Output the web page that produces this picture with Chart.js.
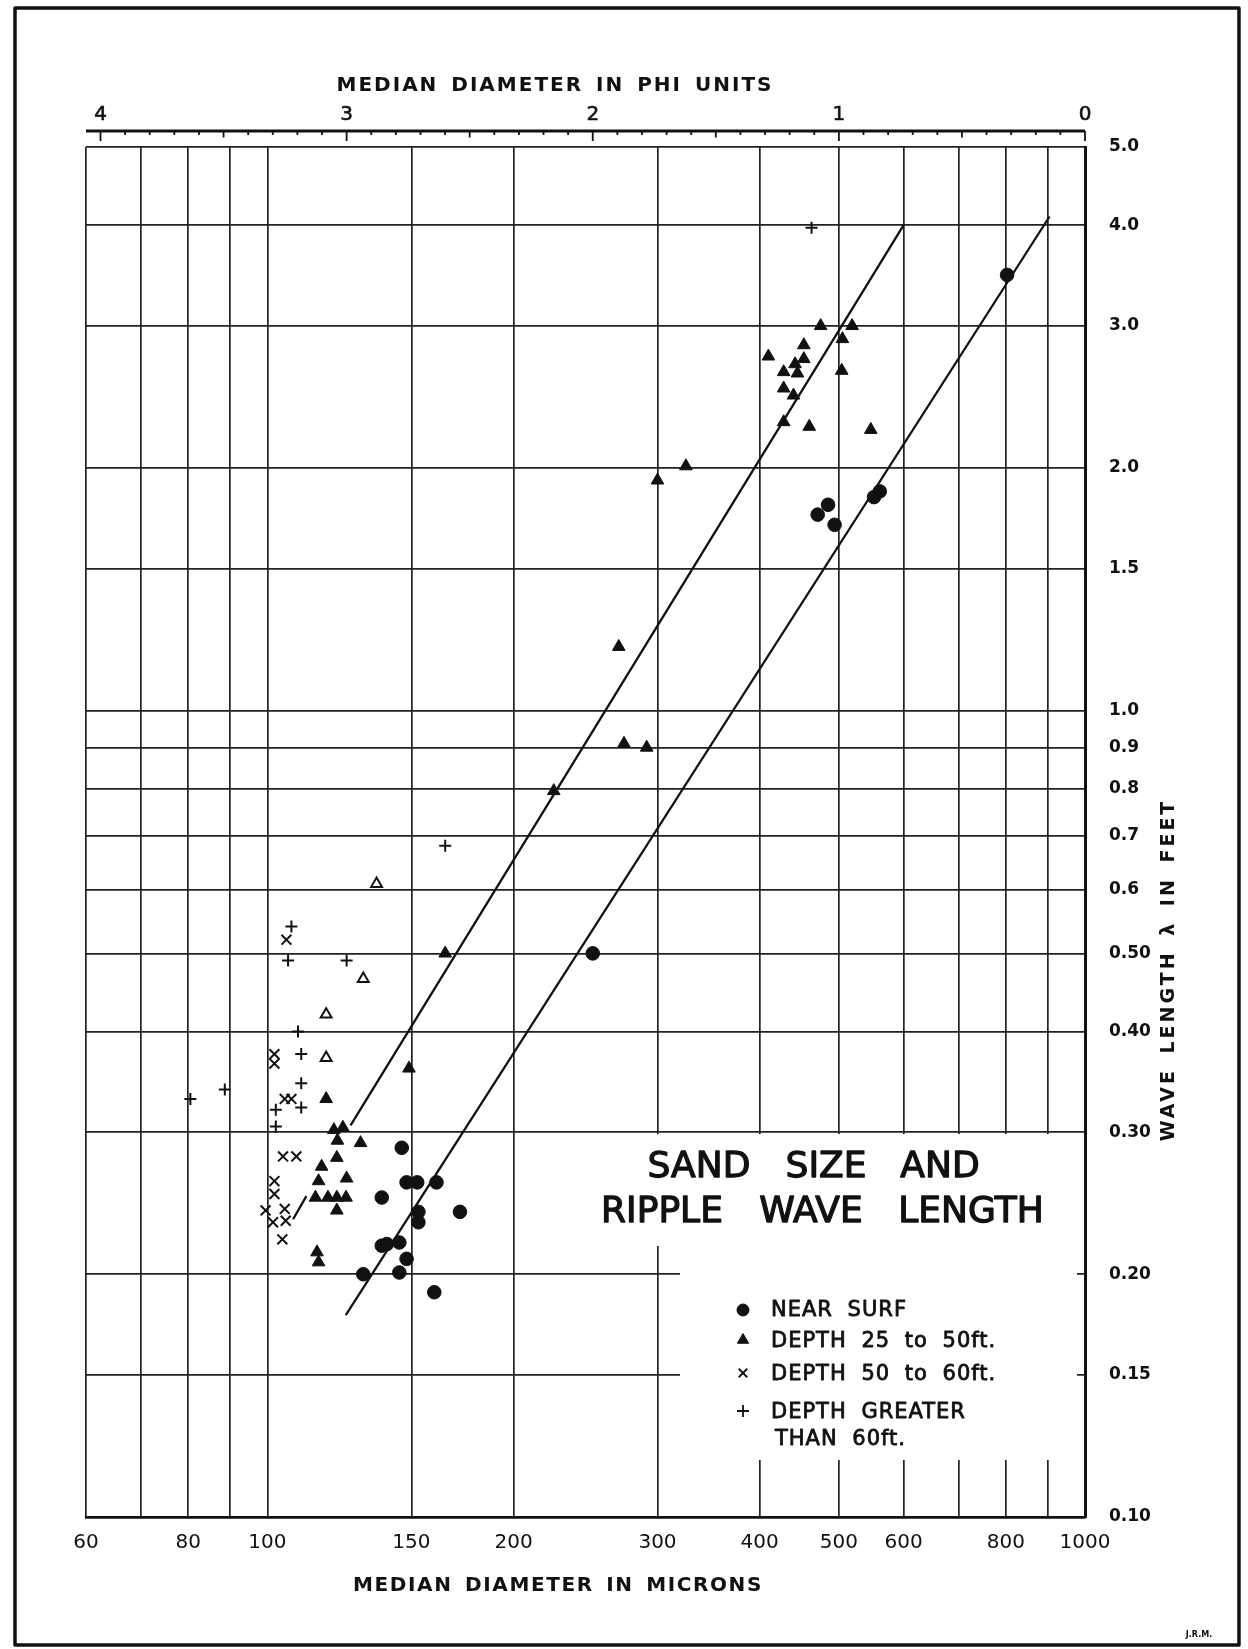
<!DOCTYPE html>
<html>
<head>
<meta charset="utf-8">
<title>Sand size and ripple wave length</title>
<script src="https://cdn.jsdelivr.net/npm/chart.js@4.4.1/dist/chart.umd.min.js"></script>
<style>
  html, body { margin: 0; padding: 0; background: #fff; }
  canvas { display: block; }
</style>
</head>
<body>
<canvas id="ripples" width="1248" height="1649"></canvas>
<script>
// axis ticks
const xTickValues = [60, 70, 80, 90, 100, 150, 200, 300, 400, 500, 600, 700, 800, 900, 1000];
const xTickLabels = ['60', '', '80', '', '100', '150', '200', '300', '400', '500', '600', '', '800', '', '1000'];
const yTickValues = [0.1, 0.15, 0.2, 0.3, 0.4, 0.5, 0.6, 0.7, 0.8, 0.9, 1, 1.5, 2, 3, 4, 5];
const yTickLabels = ['0.10', '0.15', '0.20', '0.30', '0.40', '0.50', '0.6', '0.7', '0.8', '0.9', '1.0', '1.5', '2.0', '3.0', '4.0', '5.0'];
const phiTicks = [4, 3, 2, 1, 0];
const phiLabels = ['4', '3', '2', '1', '0'];

// near surf (dots)
const nearSurfMicrons = [803, 552, 561, 471, 485, 494, 250, 146, 138, 148, 152.5, 161, 153, 153, 172, 138, 140, 145, 148, 145, 131, 160];
const nearSurfFeet = [3.47, 1.84, 1.87, 1.75, 1.80, 1.70, 0.50, 0.287, 0.249, 0.26, 0.26, 0.26, 0.239, 0.232, 0.239, 0.217, 0.218, 0.219, 0.209, 0.201, 0.20, 0.19];

// depth 25 to 50 ft (solid triangles)
const depth25Microns = [475, 519, 505, 410, 453, 453, 442, 428, 445, 428, 440, 504, 428, 460, 547,
  325, 300, 269, 273, 291, 224, 165, 149,
  118, 120.6, 123.7, 121.8, 130, 116.5, 121.6, 115.5, 125, 114.5, 118.6, 121.6, 124.8, 121.6, 115, 115.5];
const depth25Feet = [3.0, 3.0, 2.89, 2.75, 2.84, 2.73, 2.69, 2.63, 2.62, 2.51, 2.46, 2.64, 2.28, 2.25, 2.23,
  2.01, 1.93, 1.20, 0.91, 0.90, 0.795, 0.50, 0.36,
  0.33, 0.302, 0.304, 0.293, 0.291, 0.272, 0.279, 0.261, 0.263, 0.249, 0.249, 0.249, 0.249, 0.24, 0.213, 0.207];

// open triangles
const openTriMicrons = [136, 131, 118, 118];
const openTriFeet = [0.61, 0.465, 0.42, 0.371];

// depth 50 to 60 ft (x)
const depth50Microns = [105.5, 102, 102, 105, 107, 104.5, 108.5, 102, 102, 99.5, 105, 105.3, 101.6, 104.3];
const depth50Feet = [0.52, 0.375, 0.365, 0.33, 0.33, 0.28, 0.28, 0.261, 0.2515, 0.24, 0.241, 0.233, 0.232, 0.221];

// depth greater than 60 ft (+)
const depth60Microns = [463, 165, 107, 106, 125, 109, 110, 110, 110, 102.4, 102.4, 80.5, 88.7];
const depth60Feet = [3.97, 0.68, 0.54, 0.49, 0.49, 0.40, 0.375, 0.345, 0.322, 0.32, 0.305, 0.33, 0.339];

// the two ruled lines (null = break in the line)
const upperLineMicrons = [107.5, 111.6, null, 126.4, 600];
const upperLineFeet = [0.234, 0.250, null, 0.306, 4.0];
const lowerLineMicrons = [124.7, 905];
const lowerLineFeet = [0.178, 4.1];

const ink = '#111';
const toPoints = (xs, ys) => xs.map((v, i) => ({ x: v, y: ys[i] }));

const pointSet = (label, xs, ys, style, radius, fill, width) => ({
  label: label,
  data: toPoints(xs, ys),
  pointStyle: style,
  pointRadius: radius,
  pointBackgroundColor: fill,
  pointBorderColor: ink,
  pointBorderWidth: width,
  order: 1
});

const lineSet = (xs, ys) => ({
  data: toPoints(xs, ys),
  showLine: true,
  spanGaps: false,
  borderColor: ink,
  borderWidth: 2.3,
  pointRadius: 0,
  order: 5
});

const legendRows = [
  { style: 'circle', radius: 6, fill: ink, width: 1, text: ['NEAR SURF'] },
  { style: 'triangle', radius: 6.5, fill: ink, width: 1, text: ['DEPTH 25 to 50ft.'] },
  { style: 'crossRot', radius: 6, fill: ink, width: 1.8, text: ['DEPTH 50 to 60ft.'] },
  { style: 'cross', radius: 6, fill: ink, width: 1.8, text: ['DEPTH GREATER', 'THAN 60ft.'] }
];

function spaced(ctx, font, spacing, words) {
  ctx.font = font;
  ctx.letterSpacing = spacing + 'px';
  if ('wordSpacing' in ctx) ctx.wordSpacing = words + 'px';
}

// fill plus a thin outline, to get the heavier pen weight of the lettering
function heavyText(ctx, text, x, y, weight) {
  ctx.fillText(text, x, y);
  ctx.lineWidth = weight;
  ctx.strokeText(text, x, y);
}

// paper details: phi scale, titles, legend, frame
const paperPlugin = {
  id: 'paper',
  beforeDatasetsDraw(chart) {
    const { ctx, chartArea: a, scales: { y } } = chart;
    const top = y.getPixelForValue(0.3) + 2;
    ctx.save();
    ctx.fillStyle = '#fff';
    // blank panel behind the title and the key
    ctx.fillRect(650, top, a.right - 8 - 650, 1246 - top);
    ctx.fillRect(680, top, a.right - 8 - 680, 1460 - top);
    ctx.restore();
  },
  afterDraw(chart) {
    const { ctx, chartArea: a, scales: { x } } = chart;
    ctx.save();
    ctx.fillStyle = ink;
    ctx.strokeStyle = ink;
    ctx.lineJoin = 'round';

    // phi units scale
    const axisY = a.top - 16;
    ctx.lineWidth = 2.8;
    ctx.beginPath();
    ctx.moveTo(a.left, axisY);
    ctx.lineTo(a.right, axisY);
    ctx.stroke();
    ctx.lineWidth = 1.8;
    for (let k = 0; k <= 40; k++) {
      const px = x.getPixelForValue(1000 * Math.pow(2, -k / 10));
      const len = k % 10 === 0 ? 10 : (k % 5 === 0 ? 6.5 : 4);
      ctx.beginPath();
      ctx.moveTo(px, axisY);
      ctx.lineTo(px, axisY + len);
      ctx.stroke();
    }
    ctx.textAlign = 'center';
    ctx.textBaseline = 'middle';
    spaced(ctx, '20px "DejaVu Sans"', 0, 0);
    phiTicks.forEach((p, i) => {
      heavyText(ctx, phiLabels[i], x.getPixelForValue(1000 * Math.pow(2, -p)), axisY - 16, 0.6);
    });

    // axis titles
    spaced(ctx, 'bold 20px "DejaVu Sans"', 2, 4);
    ctx.fillText('MEDIAN DIAMETER IN PHI UNITS', 555, 86);
    spaced(ctx, 'bold 20px "DejaVu Sans"', 1.6, 4);
    ctx.fillText('MEDIAN DIAMETER IN MICRONS', 558, 1586);
    ctx.save();
    ctx.translate(1169, 970);
    ctx.rotate(-Math.PI / 2);
    spaced(ctx, 'bold 19px "DejaVu Sans"', 3, 5);
    ctx.fillText('WAVE LENGTH λ IN FEET', 0, 0);
    ctx.restore();

    // chart title, word by word
    spaced(ctx, '36px "DejaVu Sans"', 0, 0);
    ctx.textBaseline = 'alphabetic';
    [['SAND', 699], ['SIZE', 826], ['AND', 940]].forEach(w => heavyText(ctx, w[0], w[1], 1177, 1.3));
    [['RIPPLE', 662], ['WAVE', 811], ['LENGTH', 971]].forEach(w => heavyText(ctx, w[0], w[1], 1222, 1.3));

    // key
    const drawPoint = Chart.helpers && Chart.helpers.drawPoint;
    const symY = [1310, 1340, 1373, 1411];
    const textY = [[1316], [1347], [1380], [1418, 1445]];
    ctx.textAlign = 'left';
    legendRows.forEach((row, i) => {
      ctx.fillStyle = row.fill;
      ctx.lineWidth = row.width;
      if (drawPoint) {
        drawPoint(ctx, { pointStyle: row.style, radius: row.radius, rotation: 0, borderWidth: row.width }, 743, symY[i]);
      }
      ctx.fillStyle = ink;
      spaced(ctx, '21px "DejaVu Sans"', 1, 7);
      row.text.forEach((t, j) => heavyText(ctx, t, j === 0 ? 771 : 775, textY[i][j], 0.8));
    });

    // frame and initials
    ctx.lineWidth = 3.5;
    ctx.strokeRect(15, 8, 1224, 1637);
    spaced(ctx, 'bold 8px "DejaVu Sans"', 0, 0);
    ctx.textAlign = 'center';
    ctx.fillText('J.R.M.', 1199, 1637);
    ctx.restore();
  }
};

const tickFont = { family: 'DejaVu Sans', size: 20 };

new Chart(document.getElementById('ripples'), {
  type: 'scatter',
  data: {
    datasets: [
      pointSet('NEAR SURF', nearSurfMicrons, nearSurfFeet, 'circle', 6.8, ink, 1),
      pointSet('DEPTH 25 to 50ft.', depth25Microns, depth25Feet, 'triangle', 7.3, ink, 1),
      pointSet('DEPTH 25 to 50ft. (open)', openTriMicrons, openTriFeet, 'triangle', 6.3, '#fff', 2),
      pointSet('DEPTH 50 to 60ft.', depth50Microns, depth50Feet, 'crossRot', 7, ink, 2),
      pointSet('DEPTH GREATER THAN 60ft.', depth60Microns, depth60Feet, 'cross', 6, ink, 2),
      lineSet(upperLineMicrons, upperLineFeet),
      lineSet(lowerLineMicrons, lowerLineFeet)
    ]
  },
  options: {
    responsive: false,
    devicePixelRatio: 1,
    animation: false,
    events: [],
    layout: { padding: { left: 86, top: 147, right: 0, bottom: 0 } },
    plugins: {
      legend: { display: false },
      tooltip: { enabled: false }
    },
    scales: {
      x: {
        type: 'logarithmic',
        position: 'bottom',
        min: 60,
        max: 1000,
        afterBuildTicks: s => { s.ticks = xTickValues.map(v => ({ value: v })); },
        afterFit: s => { s.height = 132; },
        ticks: {
          autoSkip: false,
          maxRotation: 0,
          padding: 14,
          color: ink,
          font: tickFont,
          callback: (v, i) => xTickLabels[i]
        },
        grid: { color: '#222', lineWidth: 1.7, drawTicks: false },
        border: { color: ink, width: 2.8 }
      },
      y: {
        type: 'logarithmic',
        position: 'right',
        min: 0.1,
        max: 5,
        afterBuildTicks: s => { s.ticks = yTickValues.map(v => ({ value: v })); },
        afterFit: s => { s.width = 163; },
        ticks: {
          autoSkip: false,
          padding: 24,
          color: ink,
          font: { family: 'DejaVu Sans', size: 17, weight: 'bold' },
          callback: (v, i) => yTickLabels[i]
        },
        grid: { color: '#222', lineWidth: 1.7, drawTicks: false },
        border: { color: ink, width: 3 }
      }
    }
  },
  plugins: [paperPlugin]
});
</script>
</body>
</html>
